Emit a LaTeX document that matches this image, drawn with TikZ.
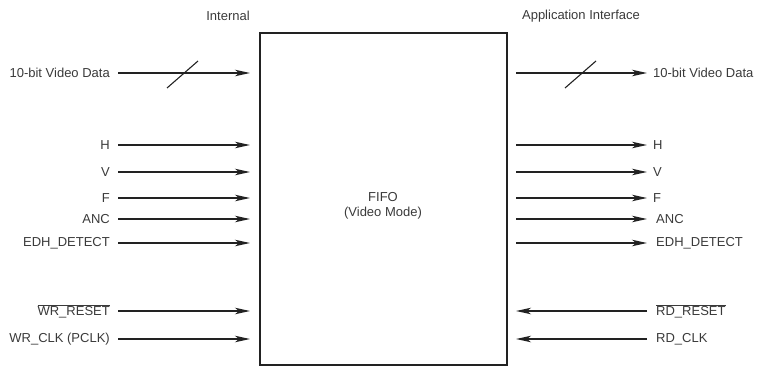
\documentclass[tikz,border=0pt]{standalone}
\usepackage{fontspec}
\setmainfont{Liberation Sans}
\usetikzlibrary{arrows.meta}
\definecolor{txt}{HTML}{3A3A3A}
\definecolor{ln}{HTML}{222222}
\begin{document}
\begin{tikzpicture}[x=1pt,y=-1pt,
  lab/.style={font=\fontsize{13}{15}\selectfont, text=txt, inner sep=0pt},
  sig/.style={draw=ln, line width=1.4pt, -{Stealth[length=15pt,width=6.5pt,inset=4pt]}},
  bus/.style={draw=ln, line width=1.1pt}]
\useasboundingbox (0,0) rectangle (760,367);
\node[draw=ln, line width=1.3pt, minimum width=247pt, minimum height=332pt, inner sep=0pt] (fifo) at (383.5,199) {};
\node[lab, align=center] (fifot) at (383,206) {FIFO\\(Video Mode)};
\node[lab] (int) at (228,16) {Internal};
\node[lab] (app) at (581,16) {Application Interface};
% left inputs
\foreach \n/\t/\y in {ld/10-bit Video Data/73, lh/H/145, lv/V/172, lf/F/198, la/ANC/219, le/EDH\_DETECT/243, lwc/WR\_CLK (PCLK)/339}{
  \node[lab, anchor=east] (\n) at (110,\y) {\t};
  \coordinate (\n s) at (118,\y);
  \coordinate (\n e) at (250,\y);
  \draw[sig] (\n s) -- (\n e);
}
\node[lab, anchor=east] (lwr) at (110,311) {$\overline{\mbox{WR\_RESET}}$};
\coordinate (lwrs) at (118,311); \coordinate (lwre) at (250,311);
\draw[sig] (lwrs) -- (lwre);
% right outputs
\foreach \n/\t/\y/\dx in {rd/10-bit Video Data/73/0, rh/H/145/0, rv/V/172/0, rf/F/198/0, ra/ANC/219/3, re/EDH\_DETECT/243/3}{
  \node[lab, anchor=west] (\n) at (653+\dx,\y) {\t};
  \coordinate (\n s) at (516,\y);
  \coordinate (\n e) at (647,\y);
  \draw[sig] (\n s) -- (\n e);
}
\node[lab, anchor=west] (rr) at (656,311) {$\overline{\mbox{RD\_RESET}}$};
\node[lab, anchor=west] (rc) at (656,339) {RD\_CLK};
\coordinate (rrs) at (647,311); \coordinate (rre) at (516,311);
\coordinate (rcs) at (647,339); \coordinate (rce) at (516,339);
\draw[sig] (rrs) -- (rre);
\draw[sig] (rcs) -- (rce);
% bus slashes
\coordinate (s1a) at (167,88); \coordinate (s1b) at (198,61);
\coordinate (s2a) at (565,88); \coordinate (s2b) at (596,61);
\draw[bus] (s1a) -- (s1b);
\draw[bus] (s2a) -- (s2b);
\end{tikzpicture}
\end{document}
